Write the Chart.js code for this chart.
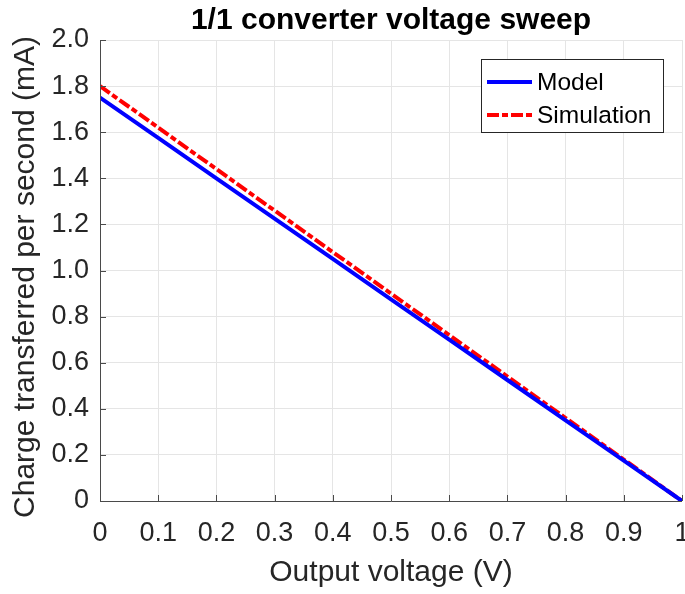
<!DOCTYPE html>
<html><head><meta charset="utf-8">
<script src="https://cdn.jsdelivr.net/npm/chart.js@4/dist/chart.umd.min.js"></script>
<style>html,body{margin:0;padding:0;background:#fff;}#wrap{width:685px;height:594px;}</style>
</head><body><div id="wrap"><canvas id="c" width="685" height="594"></canvas></div>
<script>
const titleText = '1/1 converter voltage sweep';
const xLabel = 'Output voltage (V)';
const yLabel = 'Charge transferred per second (mA)';
const voltages = [0, 0.1, 0.2, 0.3, 0.4, 0.5, 0.6, 0.7, 0.8, 0.9, 1.0];
const modelValues = [1.75, 1.575, 1.40, 1.225, 1.05, 0.875, 0.70, 0.525, 0.35, 0.175, 0];
const simulationValues = [1.80, 1.62, 1.44, 1.26, 1.08, 0.90, 0.72, 0.54, 0.36, 0.18, 0];
const seriesNames = ['Model', 'Simulation'];

const FONT = "'Liberation Sans', Arial, sans-serif";

const toPts = (xs, ys) => xs.map((x, i) => ({x: x, y: ys[i]}));

const deco = {
  id: 'deco',
  afterDraw(chart) {
    const ctx = chart.ctx, a = chart.chartArea;
    const xs = chart.scales.x, ys = chart.scales.y;
    ctx.save();
    // axis lines
    ctx.strokeStyle = '#4a4a4a';
    ctx.lineWidth = 1;
    ctx.beginPath();
    ctx.moveTo(a.left + 0.5, a.top);
    ctx.lineTo(a.left + 0.5, a.bottom + 0.5);
    ctx.lineTo(a.right, a.bottom + 0.5);
    ctx.stroke();
    // inward ticks
    ctx.beginPath();
    xs.ticks.forEach(t => {
      const px = Math.round(xs.getPixelForValue(t.value)) + 0.5;
      ctx.moveTo(px, a.bottom); ctx.lineTo(px, a.bottom - 6);
    });
    ys.ticks.forEach(t => {
      const py = Math.round(ys.getPixelForValue(t.value)) + 0.5;
      ctx.moveTo(a.left, py); ctx.lineTo(a.left + 6, py);
    });
    ctx.stroke();
    // title
    ctx.fillStyle = '#000';
    ctx.font = 'bold 30px ' + FONT;
    ctx.textAlign = 'center';
    ctx.textBaseline = 'alphabetic';
    ctx.fillText(titleText, (a.left + a.right) / 2, 29);
    // y axis title
    ctx.save();
    ctx.fillStyle = '#262626';
    ctx.font = '30px ' + FONT;
    ctx.textAlign = 'center';
    ctx.textBaseline = 'middle';
    ctx.translate(26, 277);
    ctx.rotate(-Math.PI / 2);
    ctx.fillText(yLabel, 0, 0);
    ctx.restore();
    // legend
    const bx = 481, by = 59, bw = 182, bh = 73;
    ctx.fillStyle = '#fff';
    ctx.fillRect(bx, by, bw, bh);
    ctx.strokeStyle = '#262626';
    ctx.lineWidth = 1;
    ctx.strokeRect(bx + 0.5, by + 0.5, bw, bh);
    ctx.font = '24.5px ' + FONT;
    ctx.textAlign = 'left';
    ctx.textBaseline = 'middle';
    chart.data.datasets.forEach((ds, i) => {
      const yy = by + 23 + i * 33;
      ctx.strokeStyle = ds.borderColor;
      ctx.lineWidth = ds.borderWidth;
      ctx.setLineDash(ds.borderDash || []);
      ctx.beginPath();
      ctx.moveTo(bx + 6, yy); ctx.lineTo(bx + 51, yy);
      ctx.stroke();
      ctx.setLineDash([]);
      ctx.fillStyle = '#000';
      ctx.fillText(ds.label, bx + 56, yy + 1);
    });
    ctx.restore();
  }
};

new Chart(document.getElementById('c'), {
  type: 'line',
  data: {
    datasets: [
      {label: seriesNames[0], data: toPts(voltages, modelValues), borderColor: '#0000ff', borderWidth: 4, pointRadius: 0, fill: false, tension: 0},
      {label: seriesNames[1], data: toPts(voltages, simulationValues), borderColor: '#ff0000', borderWidth: 4, borderDash: [12, 3, 6, 3], pointRadius: 0, fill: false, tension: 0}
    ]
  },
  options: {
    responsive: false,
    animation: false,
    events: [],
    layout: {padding: {top: 40, right: 3, left: 0, bottom: 0}},
    plugins: {legend: {display: false}, title: {display: false}, tooltip: {enabled: false}},
    scales: {
      x: {
        type: 'linear', min: 0, max: 1,
        border: {display: false},
        grid: {color: '#e5e5e5', lineWidth: 1, drawTicks: false},
        ticks: {stepSize: 0.1, color: '#262626', font: {family: FONT, size: 27}, padding: 16, maxRotation: 0,
          callback: v => (Math.abs(v) < 1e-9 ? '0' : Math.abs(v - 1) < 1e-9 ? '1' : (Math.round(v * 10) / 10).toString())},
        title: {display: true, text: xLabel, color: '#262626', font: {family: FONT, size: 30}, padding: {top: 0, bottom: 3}},
        afterFit: s => { s.height = 93; s.paddingLeft = 0; s.paddingRight = 0; }
      },
      y: {
        type: 'linear', min: 0, max: 2,
        border: {display: false},
        grid: {color: '#e5e5e5', lineWidth: 1, drawTicks: false},
        ticks: {stepSize: 0.2, color: '#262626', font: {family: FONT, size: 27}, padding: 11,
          callback: v => (Math.abs(v) < 1e-9 ? '0' : v.toFixed(1))},
        title: {display: false, text: yLabel},
        afterFit: s => { s.width = 100; s.paddingTop = 0; s.paddingBottom = 0; }
      }
    }
  },
  plugins: [deco]
});
</script>
</body></html>
